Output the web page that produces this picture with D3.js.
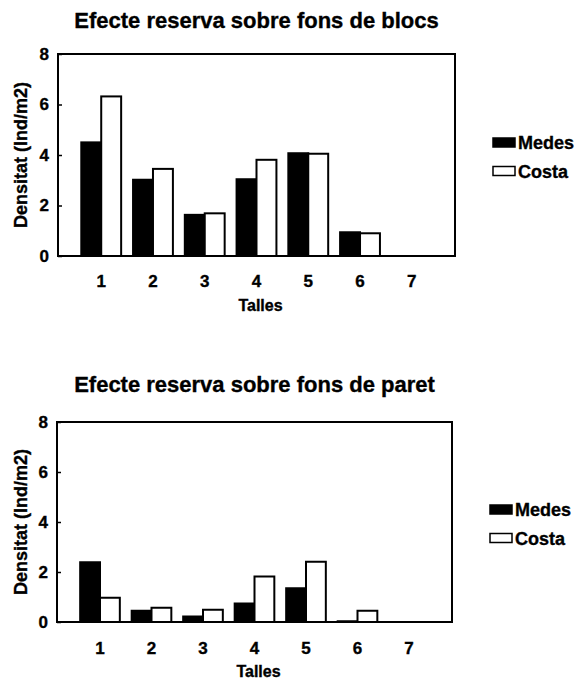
<!DOCTYPE html>
<html>
<head>
<meta charset="utf-8">
<script src="https://cdn.jsdelivr.net/npm/d3@7"></script>
<style>
  body { margin: 0; background: #fff; }
  svg text { font-family: "Liberation Sans", Arial, sans-serif; font-weight: bold; fill: #000; stroke: #000; stroke-width: 0.35px; }
</style>
</head>
<body>
<div id="chart"></div>
<script>
var width = 580, height = 682;

// categories (size classes)
var talles = ["1", "2", "3", "4", "5", "6", "7"];
var series = ["Medes", "Costa"];
var yTicks = [0, 2, 4, 6, 8];

// densitat (ind/m2)
var blocsMedes = [4.5, 3.02, 1.63, 3.04, 4.07, 0.94, 0];
var blocsCosta = [6.32, 3.45, 1.69, 3.81, 4.05, 0.9, 0];
var paretMedes = [2.39, 0.45, 0.22, 0.74, 1.35, 0.03, 0];
var paretCosta = [0.97, 0.57, 0.49, 1.82, 2.41, 0.45, 0];

var svg = d3.select("#chart").append("svg")
    .attr("width", width)
    .attr("height", height);

var fill = d3.scaleOrdinal().domain(series).range(["#000", "#fff"]);

function drawChart(opt) {
  var g = svg.append("g");

  var x = d3.scaleBand().domain(talles)
      .range([opt.left, opt.right])
      .paddingInner(0.23).paddingOuter(0.45);
  var xs = d3.scaleBand().domain(series).range([0, x.bandwidth()]);
  var y = d3.scaleLinear().domain([0, 8]).range([opt.bottom, opt.top]);

  // title
  g.append("text")
    .attr("x", (opt.left + opt.right) / 2)
    .attr("y", opt.titleY)
    .attr("text-anchor", "middle")
    .style("font-size", "22px")
    .text(opt.title);

  // bars
  var rows = talles.map(function(t, i) {
    return { talla: t, values: [ { s: "Medes", v: opt.medes[i] }, { s: "Costa", v: opt.costa[i] } ] };
  });

  var grp = g.selectAll(".grp").data(rows).enter().append("g")
    .attr("transform", function(d) { return "translate(" + x(d.talla) + ",0)"; });

  grp.selectAll("rect").data(function(d) { return d.values.filter(function(v) { return v.v > 0; }); })
    .enter().append("rect")
    .attr("x", function(d) { return xs(d.s); })
    .attr("y", function(d) { return y(d.v); })
    .attr("width", xs.bandwidth())
    .attr("height", function(d) { return y(0) - y(d.v); })
    .attr("fill", function(d) { return fill(d.s); })
    .attr("stroke", "#000")
    .attr("stroke-width", 2);

  // frame
  g.append("rect")
    .attr("x", opt.left).attr("y", opt.top)
    .attr("width", opt.right - opt.left).attr("height", opt.bottom - opt.top)
    .attr("fill", "none").attr("stroke", "#000").attr("stroke-width", 2);

  // y axis
  var ya = g.append("g")
    .attr("transform", "translate(" + opt.left + ",0)")
    .call(d3.axisLeft(y).tickValues(yTicks).tickSizeInner(-4).tickSizeOuter(0).tickPadding(9));
  ya.select(".domain").remove();
  ya.selectAll("text").style("font-size", "17px").attr("font-family", null);
  ya.selectAll("line").attr("stroke-width", 1.5);

  // x axis
  var xa = g.append("g")
    .attr("transform", "translate(0," + opt.bottom + ")")
    .call(d3.axisBottom(x).tickSize(0).tickPadding(opt.xPad));
  xa.select(".domain").remove();
  xa.selectAll("text").style("font-size", "17px").attr("font-family", null);

  // axis titles
  g.append("text")
    .attr("x", (opt.left + opt.right) / 2 + 4)
    .attr("y", opt.tallesY)
    .attr("text-anchor", "middle")
    .attr("dominant-baseline", "central")
    .style("font-size", "16px")
    .text("Talles");

  g.append("text")
    .attr("transform", "translate(21," + (opt.top + opt.bottom) / 2 + ") rotate(-90)")
    .attr("text-anchor", "middle")
    .attr("dominant-baseline", "central")
    .style("font-size", "18px")
    .text("Densitat (Ind/m2)");

  // legend
  var leg = g.selectAll(".leg").data(series).enter().append("g")
    .attr("transform", function(d, i) { return "translate(" + opt.legX + "," + (opt.legY + i * 28.5) + ")"; });
  leg.append("rect")
    .attr("x", 0).attr("y", -5)
    .attr("width", 22).attr("height", 9)
    .attr("fill", function(d) { return fill(d); })
    .attr("stroke", "#000").attr("stroke-width", 1.5);
  leg.append("text")
    .attr("x", 25).attr("y", 0)
    .attr("dominant-baseline", "central")
    .style("font-size", "18px")
    .text(function(d) { return d; });
}

drawChart({
  title: "Efecte reserva sobre fons de blocs",
  medes: blocsMedes, costa: blocsCosta,
  left: 58, right: 455, top: 54, bottom: 256,
  titleY: 28, xPad: 19, tallesY: 305,
  legX: 493, legY: 143
});

drawChart({
  title: "Efecte reserva sobre fons de paret",
  medes: paretMedes, costa: paretCosta,
  left: 57, right: 452, top: 422, bottom: 622,
  titleY: 392, xPad: 20, tallesY: 671,
  legX: 490, legY: 510
});
</script>
</body>
</html>
